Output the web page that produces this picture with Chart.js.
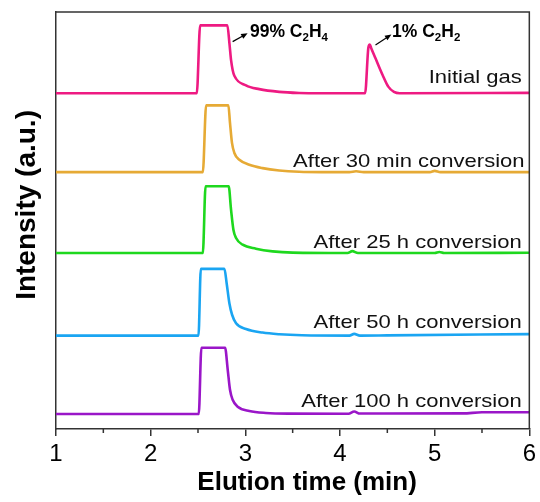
<!DOCTYPE html>
<html>
<head>
<meta charset="utf-8">
<title>Elution profiles</title>
<script src="https://cdn.jsdelivr.net/npm/chart.js@4.4.1/dist/chart.umd.min.js"></script>
<style>
  html, body { margin: 0; padding: 0; background: #fff; }
</style>
</head>
<body>
<canvas id="myChart" width="540" height="502"></canvas>
<script>

// elution time (min) / detector signal (a.u.) for every run
const initialTime = [1, 2.487, 2.523, 2.81, 2.832, 2.849, 2.866, 2.884, 3.007, 3.147, 3.358, 3.568, 3.78, 4.265, 4.30, 4.315, 4.33, 4.375, 4.45, 4.51, 4.57, 4.63, 6]
const initialSignal = [0, 0, 16.3, 16.3, 12, 8, 5.6, 4.2, 1.9, 1.0, 0.35, 0.08, 0, 0, 11.0, 11.7, 10.8, 8.4, 4.4, 1.6, 0.35, 0.03, 0.1]

const min30Time = [1, 2.551, 2.586, 2.821, 2.838, 2.859, 2.884, 2.937, 3.042, 3.182, 3.358, 3.568, 3.8, 4.1, 4.17, 4.25, 4.95, 5.0, 5.06, 6]
const min30Signal = [0, 0, 16.0, 16.0, 11.8, 7, 4.6, 2.96, 1.76, 0.96, 0.4, 0.08, 0, 0, 0.2, 0, 0, 0.3, 0, 0]

const h25Time = [1, 2.551, 2.58, 2.824, 2.849, 2.874, 2.902, 2.972, 3.112, 3.288, 3.5, 4.08, 4.13, 4.19, 5.0, 5.05, 5.1, 6]
const h25Signal = [0, 0, 16.0, 16.0, 10.4, 5.6, 3.6, 2.0, 1.04, 0.4, 0.1, 0, 0.45, 0, 0, 0.25, 0, 0.05]

const h50Time = [1, 2.505, 2.53, 2.779, 2.803, 2.832, 2.86, 2.902, 3.007, 3.182, 3.358, 3.6, 4.1, 4.15, 4.21, 4.5, 6]
const h50Signal = [0, 0, 16.0, 16.0, 12.5, 7.7, 5.0, 2.96, 1.6, 0.72, 0.32, 0.08, 0, 0.4, 0, 0.05, 0.35]

const h100Time = [1, 2.508, 2.536, 2.786, 2.814, 2.838, 2.866, 2.919, 3.042, 3.217, 3.45, 4.09, 4.15, 4.21, 5.3, 5.5, 6]
const h100Signal = [0, 0, 15.9, 15.9, 10.6, 5.8, 3.4, 1.76, 0.72, 0.24, 0.08, 0.05, 0.6, 0.1, 0.15, 0.4, 0.4]

const runNames = ['Initial gas', 'After 30 min conversion', 'After 25 h conversion', 'After 50 h conversion', 'After 100 h conversion']
const runTimes = [initialTime, min30Time, h25Time, h50Time, h100Time]
const runSignals = [initialSignal, min30Signal, h25Signal, h50Signal, h100Signal]
// vertical stacking of the traces
const runOffsets = [80.5, 61.6, 42.2, 22.4, 3.6]

const xTicks = [1, 2, 3, 4, 5, 6]

// look
const runColors = ['#ee1a82', '#e6aa35', '#1ed81e', '#1aa5f2', '#9a16c8']
const runLabelAt = [[5.92, 82.9], [5.95, 62.9], [5.92, 43.5], [5.92, 24.3], [5.92, 5.35]]
const fontFamily = '"Liberation Sans", Arial, sans-serif'

const datasets = runNames.map(function (name, i) {
  return {
    label: name,
    data: runTimes[i].map(function (t, k) { return { x: t, y: runSignals[i][k] + runOffsets[i] } }),
    borderColor: runColors[i],
    borderWidth: 2.6,
    pointRadius: 0,
    fill: false,
    cubicInterpolationMode: 'monotone'
  }
})

function drawFormula(ctx, parts, px, py) {
  // parts: [text, isSubscript]
  let cx = px
  parts.forEach(function (p) {
    ctx.font = 'bold ' + (p[1] ? 11.5 : 17.5) + 'px ' + fontFamily
    ctx.fillText(p[0], cx, py + (p[1] ? 4 : 0))
    cx += ctx.measureText(p[0]).width
  })
}

function drawArrow(ctx, x0, y0, x1, y1) {
  const ang = Math.atan2(y1 - y0, x1 - x0)
  ctx.beginPath()
  ctx.moveTo(x0, y0)
  ctx.lineTo(x1 - 4 * Math.cos(ang), y1 - 4 * Math.sin(ang))
  ctx.stroke()
  ctx.beginPath()
  ctx.moveTo(x1, y1)
  ctx.lineTo(x1 - 7 * Math.cos(ang - 0.4), y1 - 7 * Math.sin(ang - 0.4))
  ctx.lineTo(x1 - 7 * Math.cos(ang + 0.4), y1 - 7 * Math.sin(ang + 0.4))
  ctx.closePath()
  ctx.fill()
}

const decorations = {
  id: 'decorations',
  afterDraw(chart) {
    const ctx = chart.ctx
    const a = chart.chartArea
    const x = chart.scales.x
    const y = chart.scales.y
    ctx.save()

    // frame top / right
    ctx.strokeStyle = '#333'
    ctx.lineWidth = 1.5
    ctx.beginPath()
    ctx.moveTo(a.left, a.top)
    ctx.lineTo(a.right, a.top)
    ctx.lineTo(a.right, a.bottom)
    ctx.stroke()

    // minor ticks
    ctx.beginPath()
    for (let i = 0; i < xTicks.length - 1; i++) {
      const px = x.getPixelForValue(xTicks[i] + 0.5)
      ctx.moveTo(px, a.bottom)
      ctx.lineTo(px, a.bottom + 4)
    }
    ctx.stroke()

    // run names
    ctx.fillStyle = '#111'
    ctx.textAlign = 'right'
    ctx.textBaseline = 'alphabetic'
    ctx.font = '19px ' + fontFamily
    runNames.forEach(function (name, i) {
      ctx.save()
      ctx.translate(x.getPixelForValue(runLabelAt[i][0]), y.getPixelForValue(runLabelAt[i][1]))
      ctx.scale(1.16, 1)
      ctx.fillText(name, 0, 0)
      ctx.restore()
    })

    // peak annotations
    ctx.fillStyle = '#000'
    ctx.strokeStyle = '#000'
    ctx.lineWidth = 1.2
    ctx.textAlign = 'left'
    drawArrow(ctx, x.getPixelForValue(2.866), y.getPixelForValue(92.9), x.getPixelForValue(3.024), y.getPixelForValue(94.9))
    drawArrow(ctx, x.getPixelForValue(4.375), y.getPixelForValue(92.1), x.getPixelForValue(4.543), y.getPixelForValue(94.6))
    drawFormula(ctx, [['99% C', false], ['2', true], ['H', false], ['4', true]], x.getPixelForValue(3.049), y.getPixelForValue(94.0))
    drawFormula(ctx, [['1% C', false], ['2', true], ['H', false], ['2', true]], x.getPixelForValue(4.55), y.getPixelForValue(94.0))

    ctx.restore()
  }
}

Chart.defaults.font.family = fontFamily
Chart.defaults.color = '#000'

const ctx = document.getElementById('myChart').getContext('2d')
const chart = new Chart(ctx, {
  type: 'line',
  data: { datasets: datasets },
  options: {
    responsive: false,
    animation: false,
    devicePixelRatio: 1,
    layout: { padding: { top: 12, right: 4, left: 0, bottom: 0 } },
    plugins: { legend: { display: false }, tooltip: { enabled: false } },
    scales: {
      x: {
        type: 'linear',
        min: xTicks[0],
        max: xTicks[xTicks.length - 1],
        ticks: {
          stepSize: 1,
          autoSkip: false,
          maxRotation: 0,
          padding: 4,
          font: { size: 24 },
          color: '#000'
        },
        grid: {
          display: true,
          drawOnChartArea: false,
          drawTicks: true,
          tickLength: 7,
          color: '#333',
          lineWidth: 1.5
        },
        border: { display: true, color: '#333', width: 1.5 },
        title: {
          display: true,
          text: '    Elution time (min)',
          font: { size: 26, weight: 'bold' },
          color: '#000',
          padding: { top: 0, bottom: 4 }
        },
        afterFit(s) { s.height = 73 }
      },
      y: {
        type: 'linear',
        min: 0,
        max: 100,
        ticks: { display: false },
        grid: { display: false },
        border: { display: true, color: '#333', width: 1.5 },
        title: {
          display: true,
          text: '    Intensity (a.u.)',
          font: { size: 28, weight: 'bold' },
          color: '#000',
          padding: { top: 10, bottom: 0 }
        },
        afterFit(s) { s.width = 56 }
      }
    }
  },
  plugins: [decorations]
})
</script>
</body>
</html>
